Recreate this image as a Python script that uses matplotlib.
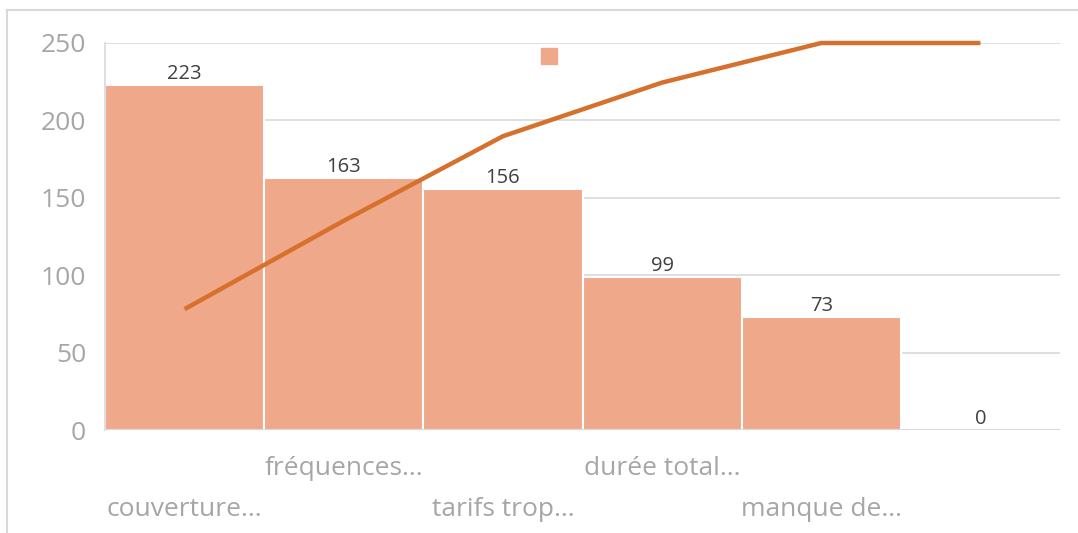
import matplotlib
matplotlib.use("Agg")
import matplotlib.pyplot as plt
import numpy as np
from matplotlib.lines import Line2D

categories = ["couverture...", "fréquences...", "tarifs trop...", "durée total...", "manque de...", ""]
values = [223, 163, 156, 99, 73, 0]
yticks = [0, 50, 100, 150, 200, 250]

bar_color = "#F0A88A"
line_color = "#D5702D"
tick_grey = "#A6A6A6"
label_dark = "#404040"
grid_grey = "#D9D9D9"

plt.rcParams['font.family'] = ['Open Sans', 'DejaVu Sans']

fig = plt.figure(figsize=(10.78, 5.33), dpi=100)
ax = fig.add_axes([105/1078, 1-430/533, (1060-105)/1078, (430-43)/533])

x = np.arange(len(categories))
ax.bar(x, values, width=1.0, color=bar_color, edgecolor="white", linewidth=1.5, zorder=2)
ax.set_xlim(-0.5, len(categories) - 0.5)
ax.set_ylim(0, 250)
ax.set_yticks(yticks)
ax.yaxis.grid(True, color=grid_grey, linewidth=1.2, zorder=0)
ax.set_axisbelow(True)
for s in ["top", "right", "bottom"]:
    ax.spines[s].set_visible(False)
ax.spines["left"].set_color(grid_grey)
ax.spines["left"].set_linewidth(1.2)
ax.axhline(0, color=grid_grey, linewidth=1.5, zorder=3)
ax.tick_params(axis="y", length=0, pad=13.5, labelsize=19, labelcolor=tick_grey)

# category labels in two staggered rows
ax.set_xticks(x[0::2])
ax.set_xticklabels(categories[0::2])
ax.set_xticks(x[1::2], minor=True)
ax.set_xticklabels(categories[1::2], minor=True)
ax.tick_params(axis="x", which="major", length=0, pad=48, labelsize=19, labelcolor=tick_grey)
ax.tick_params(axis="x", which="minor", length=0, pad=19, labelsize=19, labelcolor=tick_grey)

for xi, v in zip(x, values):
    ax.annotate(str(v), (xi, v), xytext=(0, 0.5), textcoords="offset points",
                ha="center", va="bottom", fontsize=14.5, color=label_dark, zorder=4)

# cumulative percentage on hidden secondary axis
ax2 = ax.twinx()
cum = np.cumsum(values) / np.sum(values)
ax2.plot(x, cum, color=line_color, linewidth=3.2, solid_capstyle="butt", clip_on=False, zorder=5)
ax2.set_ylim(0, 1)
ax2.axis("off")

# small legend marker
fig.legend(handles=[Line2D([], [], marker="s", linestyle="none", markersize=11,
                           markerfacecolor=bar_color, markeredgecolor=bar_color)],
           labels=[""], loc="center", bbox_to_anchor=(549/1078, 1-57/533),
           frameon=False, handletextpad=0, borderpad=0, handlelength=0.8)

# outer chart border (top and left visible)
fig.add_artist(Line2D([7/1078, 7/1078], [0, 1-10/533], transform=fig.transFigure,
                      color=grid_grey, linewidth=1.5))
fig.add_artist(Line2D([7/1078, 1], [1-10/533, 1-10/533], transform=fig.transFigure,
                      color=grid_grey, linewidth=1.5))

fig.savefig("out.png", dpi=100, facecolor="white")
